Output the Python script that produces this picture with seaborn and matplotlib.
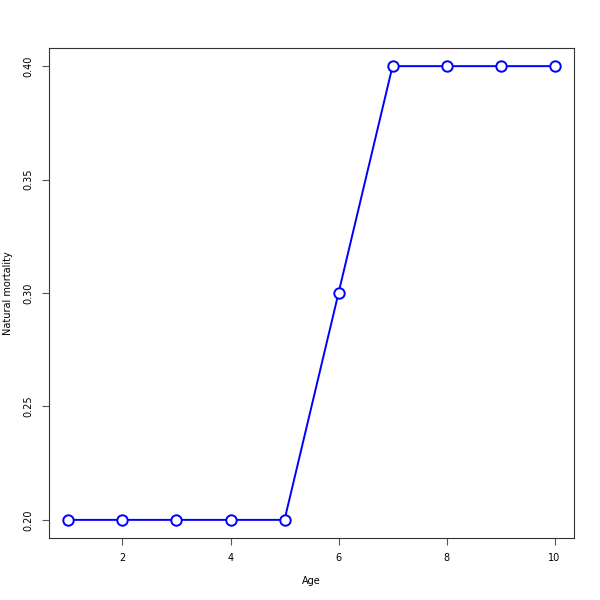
import matplotlib
matplotlib.use("Agg")
import matplotlib.pyplot as plt
import seaborn as sns
import pandas as pd

ages = [1, 2, 3, 4, 5, 6, 7, 8, 9, 10]
mortality = [0.2, 0.2, 0.2, 0.2, 0.2, 0.3, 0.4, 0.4, 0.4, 0.4]

df = pd.DataFrame({"Age": ages, "Natural mortality": mortality})

sns.set_style("white")
plt.rcParams["font.family"] = ["DejaVu Sans"]

fig = plt.figure(figsize=(6, 6), dpi=100)
ax = fig.add_axes([0.0817, 0.1033, 0.875, 0.8167])

sns.lineplot(data=df, x="Age", y="Natural mortality", ax=ax, color="blue",
             linewidth=1.4, marker="o", markersize=7.5, markerfacecolor="white",
             markeredgecolor="blue", markeredgewidth=1.4)

ax.set_xlim(0.64, 10.36)
ax.set_ylim(0.192, 0.408)
ax.set_xticks([2, 4, 6, 8, 10])
ax.set_yticks([0.20, 0.25, 0.30, 0.35, 0.40])
ax.set_yticklabels(["0.20", "0.25", "0.30", "0.35", "0.40"], rotation=90, va="center")
ax.tick_params(axis="both", labelsize=7, length=5, width=0.8, color="#555555",
               labelcolor="black", direction="out", left=True, bottom=True)
ax.tick_params(axis="x", pad=6)
ax.tick_params(axis="y", pad=6)
for s in ax.spines.values():
    s.set_color("#333333")
    s.set_linewidth(0.8)

ax.set_xlabel("Age", fontsize=7, color="black")
ax.set_ylabel("Natural mortality", fontsize=7, color="black")
ax.xaxis.set_label_coords(0.5, -0.077)
ax.yaxis.set_label_coords(-0.068, 0.5)

fig.savefig("out.png", dpi=100)
